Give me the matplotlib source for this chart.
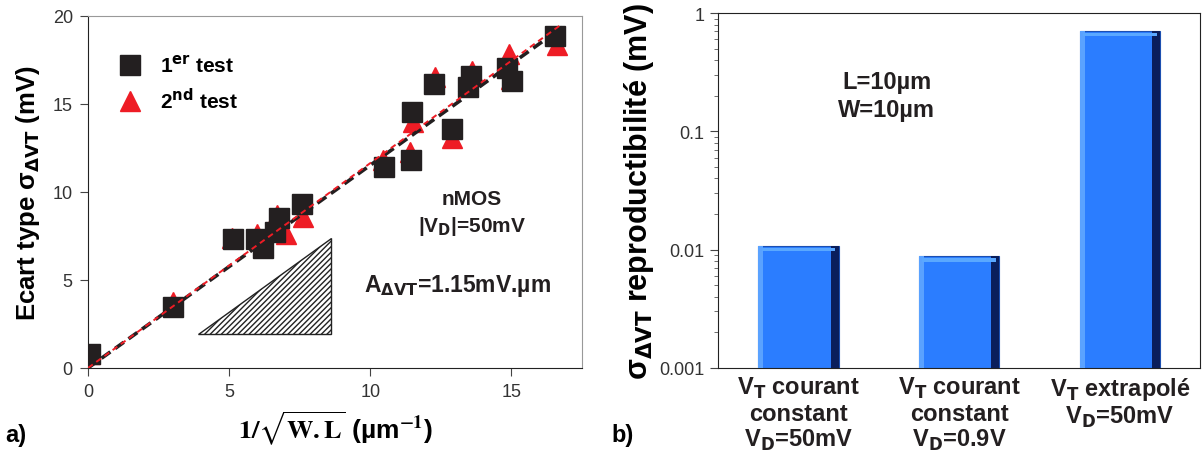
import matplotlib.pyplot as plt
import numpy as np

plt.rcParams['font.family'] = ['Liberation Sans', 'DejaVu Sans']
plt.rcParams['mathtext.default'] = 'bf'

# panel a) data
x_test1 = [0.07, 3.0, 5.14, 5.95, 6.19, 6.63, 6.77, 7.59, 10.5, 11.43, 11.49, 12.26, 12.88, 13.45, 13.56, 14.86, 15.03, 16.56]
y_test1 = [0.79, 3.46, 7.31, 7.33, 6.84, 7.7, 8.5, 9.34, 11.4, 11.84, 14.55, 16.15, 13.6, 15.98, 16.58, 17.05, 16.3, 18.87]
x_test2 = [0.07, 3.0, 5.1, 6.0, 6.2, 6.7, 7.0, 7.62, 10.45, 11.4, 11.5, 12.28, 12.9, 13.45, 13.6, 14.9, 15.0, 16.6]
y_test2 = [0.8, 3.75, 7.4, 7.6, 7.0, 8.7, 7.6, 8.55, 11.8, 12.25, 13.95, 16.55, 13.05, 16.3, 16.85, 17.85, 16.4, 18.35]
fit_x = [0.0, 16.8]
fit_y1 = [0.0, 19.35]
fit_y2 = [0.0, 19.55]
tri_x = [3.9, 8.6, 8.6]
tri_y = [1.9, 1.9, 7.4]

# panel b) data
bar_labels = ['V$_T$ courant\nconstant\nV$_D$=50mV',
              'V$_T$ courant\nconstant\nV$_D$=0.9V',
              'V$_T$ extrapolé\nV$_D$=50mV']
bar_values = [0.0108, 0.0088, 0.71]

fig = plt.figure(figsize=(12.03, 4.56), dpi=100)

# ---------- a)
ax = fig.add_axes([0.0732, 0.191, 0.4106, 0.772])
ax.fill(tri_x, tri_y, facecolor='white', edgecolor='#222222', hatch='//////', linewidth=1.0, zorder=1)
ax.plot(x_test2, y_test2, '^', color='#ee1c25', markersize=15, linestyle='none', zorder=2, label='2$^{nd}$ test')
ax.plot(x_test1, y_test1, 's', color='#231f20', markersize=15, linestyle='none', zorder=3, label='1$^{er}$ test')
ax.plot(fit_x, fit_y1, color='#231f20', linestyle=(0, (3, 1.6)), linewidth=2.6, zorder=4)
ax.plot(fit_x, fit_y2, color='#ee1c25', linestyle=(0, (3, 2.2)), linewidth=1.4, zorder=5)

ax.set_xlim(0, 17.5)
ax.set_ylim(0, 20)
ax.set_xticks([0, 5, 10, 15])
ax.set_yticks([0, 5, 10, 15, 20])
ax.tick_params(direction='out', labelsize=13, labelcolor='#333333', length=6, color='#444444', pad=5)
for s in ['top', 'right']:
    ax.spines[s].set_color('#999999')
for s in ['left', 'bottom']:
    ax.spines[s].set_color('#222222')

h, l = ax.get_legend_handles_labels()
leg = ax.legend(h[::-1], l[::-1], loc='upper left', frameon=False,
                prop={'weight': 'bold', 'size': 15}, handletextpad=0.4, labelspacing=0.55,
                borderaxespad=0.4, markerscale=1.0, bbox_to_anchor=(0.01, 0.94))

ax.text(13.6, 8.8, 'nMOS\n|V$_D$|=50mV', ha='center', va='center', fontsize=15, fontweight='bold', color='#231f20', linespacing=1.3)
ax.text(13.1, 4.7, 'A$_{\\Delta VT}$=1.15mV.µm', ha='center', va='center', fontsize=16.5, fontweight='bold', color='#231f20')

ax.set_ylabel('Ecart type σ$_{\\Delta VT}$ (mV)', fontsize=18.5, fontweight='bold', labelpad=8)
ax.set_xlabel(r'$\mathbf{1/\sqrt{W.L}}$ (µm$^{-1}$)', fontsize=19, fontweight='bold', labelpad=6,
              math_fontfamily='stix')
fig.text(0.004, 0.03, 'a)', fontsize=17, fontweight='bold')

# ---------- b)
bx = fig.add_axes([0.597, 0.191, 0.4007, 0.778])
pos = np.arange(len(bar_values))
bx.bar(pos, bar_values, width=0.5, color='#2b7dff', edgecolor='#1c4fb0', linewidth=0.8, zorder=2)
# bevel shading
bx.bar(pos + 0.225, bar_values, width=0.05, color='#0a1e5c', linewidth=0, zorder=3)
bx.bar(pos - 0.235, bar_values, width=0.03, color='#5aa2ff', linewidth=0, zorder=3)
bx.bar(pos, [v * 0.06 for v in bar_values], bottom=[v * 0.9 for v in bar_values], width=0.46,
       color='#5aa8ff', linewidth=0, zorder=3)

bx.set_yscale('log')
bx.set_ylim(0.001, 1)
bx.set_xlim(-0.5, 2.5)
bx.set_yticks([0.001, 0.01, 0.1, 1])
bx.set_yticklabels(['0.001', '0.01', '0.1', '1'])
bx.set_xticks(pos)
bx.set_xticklabels(bar_labels, fontsize=17, fontweight='bold', linespacing=1.1)
bx.tick_params(axis='y', direction='out', labelsize=13, labelcolor='#333333', color='#444444', length=6, pad=4)
bx.tick_params(axis='y', which='minor', direction='out', length=3, color='#555555')
bx.tick_params(axis='x', length=0, pad=5, labelcolor='#231f20')
for s in bx.spines.values():
    s.set_color('#222222')

bx.text(0.55, 0.2, 'L=10µm\nW=10µm', ha='center', va='center', fontsize=17, fontweight='bold', color='#231f20', linespacing=1.3)
bx.set_ylabel('σ$_{\\Delta VT}$ reproductibilité (mV)', fontsize=22, fontweight='bold', labelpad=2)
fig.text(0.508, 0.03, 'b)', fontsize=17, fontweight='bold')

fig.savefig('out.png', dpi=100)
